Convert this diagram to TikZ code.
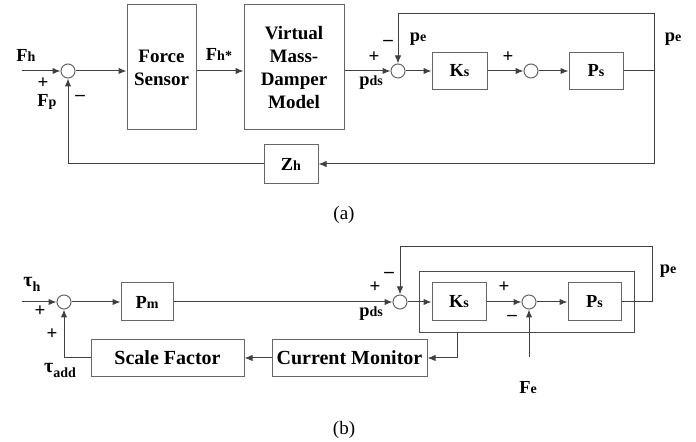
\documentclass[tikz,border=0pt]{standalone}
\usepackage{fontspec}
\setmainfont{Liberation Serif}
\usetikzlibrary{arrows.meta}
\newcommand{\blab}[2]{{\fontsize{9.2}{10}\selectfont\bfseries #1}{\fontsize{7}{8}\selectfont\bfseries #2}}
\newcommand{\tlab}[2]{{\fontsize{10}{10}\selectfont\bfseries #1}\raisebox{-2.5pt}{\fontsize{7}{8}\selectfont\bfseries #2}}
\tikzset{
  blk/.style={draw=black!60, line width=0.5pt, inner sep=1pt, align=center, font=\fontsize{9.5}{11.5}\selectfont\bfseries},
  sumc/.style={circle, draw=black!60, line width=0.5pt, minimum size=7pt, inner sep=0pt},
  sig/.style={draw=black!75, line width=0.5pt, -{Latex[length=4pt,width=3.2pt]}},
  wire/.style={draw=black!75, line width=0.5pt},
  lbl/.style={font=\fontsize{9.5}{10}\selectfont\bfseries, inner sep=0pt},
}
\begin{document}
\begin{tikzpicture}[x=0.5pt, y=-0.5pt]
\useasboundingbox (0,0) rectangle (696,442);
% ---- (a) ----
\node[sumc] (sa) at (68,71) {};
\node[blk, minimum width=34.5pt, minimum height=62.5pt] (fs) at (161.5,67.5) {Force\\Sensor};
\node[blk, minimum width=50pt, minimum height=62.5pt] (vmd) at (294,67.5) {Virtual\\Mass-\\Damper\\Model};
\node[sumc] (sb) at (398,71) {};
\node[blk, minimum width=27.5pt, minimum height=18.5pt] (ks) at (459.5,71) {\blab{K}{s}};
\node[sumc] (sc) at (531,71) {};
\node[blk, minimum width=27pt, minimum height=18.5pt] (ps) at (596,71) {\blab{P}{s}};
\node[blk, minimum width=27pt, minimum height=19.5pt] (zh) at (291,164) {\blab{Z}{h}};
\coordinate (fhin) at (22,71);
\coordinate (ta) at (654,71);
\coordinate (tb) at (654,14);
\coordinate (bb) at (654,164);

\draw[sig] (fhin) -- (sa);
\draw[sig] (sa) -- (sa -| fs.west);
\draw[sig] (sa -| fs.east) -- (sa -| vmd.west);
\draw[sig] (sa -| vmd.east) -- (sb);
\draw[sig] (sb) -- (ks);
\draw[sig] (ks) -- (sc);
\draw[sig] (sc) -- (ps);
\draw[wire] (ps) -- (ta);
\draw[sig] (ta) -- (tb) -| (sb.north);
\draw[sig] (ta) -- (bb) -- (zh.east);
\draw[sig] (zh.west) -| (sa.south);

\node[lbl] (fh) at (26,55) {\blab{F}{h}};
\node[lbl] (fp) at (47,102) {\blab{F}{p}};
\node[lbl] (fhs) at (219,54) {\blab{F}{h*}};
\node[lbl] (pdsa) at (371,83) {\blab{p}{ds}};
\node[lbl] (pea) at (418,39) {\blab{p}{e}};
\node[lbl] (peb) at (673,39) {\blab{p}{e}};
\foreach \x/\y [count=\k] in {43/83, 374/57, 508/57}
  \node[lbl] (pa\k) at (\x,\y) {+};
\foreach \x/\y [count=\k] in {80/98, 388/43}
  \node[lbl] (ma\k) at (\x,\y) {--};
\node[font=\fontsize{9.5}{11}\selectfont] (capa) at (344,215) {(a)};

% ---- (b) ----
\node[sumc] (sd) at (64,302) {};
\node[blk, minimum width=26pt, minimum height=19pt] (pm) at (147,302) {\blab{P}{m}};
\node[sumc] (se) at (400,302) {};
\node[draw=black!70, line width=0.5pt, minimum width=107.5pt, minimum height=30.5pt] (inner) at (526.5,302.5) {};
\node[blk, minimum width=27pt, minimum height=19pt] (ks2) at (459,302) {\blab{K}{s}};
\node[sumc] (sf) at (529,302) {};
\node[blk, minimum width=26.5pt, minimum height=19pt] (ps2) at (594.5,302) {\blab{P}{s}};
\node[blk, minimum width=77.5pt, minimum height=18.5pt, font=\fontsize{10}{12}\selectfont\bfseries] (cm) at (349.5,358) {Current Monitor};
\node[blk, minimum width=76.5pt, minimum height=18.5pt, font=\fontsize{10}{12}\selectfont\bfseries] (sfb) at (167.5,358) {Scale Factor};
\coordinate (thin) at (22,302);
\coordinate (tc) at (652,302);
\coordinate (td) at (652,247);
\coordinate (fein) at (529,357);
\coordinate (ib) at (457,333);

\draw[sig] (thin) -- (sd);
\draw[sig] (sd) -- (pm);
\draw[sig] (pm) -- (se);
\draw[sig] (se) -- (ks2);
\draw[sig] (ks2) -- (sf);
\draw[sig] (sf) -- (ps2);
\draw[wire] (ps2) -- (tc);
\draw[sig] (tc) -- (td) -| (se.north);
\draw[sig] (fein) -- (sf.south);
\draw[sig] (ib) |- (cm.east);
\draw[sig] (cm) -- (sfb);
\draw[sig] (sfb.west) -| (sd.south);

\node[lbl] (th) at (32,284) {\tlab{τ}{h}};
\node[lbl] (tadd) at (60,370) {\tlab{τ}{add}};
\node[lbl] (pdsb) at (371,314) {\blab{p}{ds}};
\node[lbl] (pec) at (668,271) {\blab{p}{e}};
\node[lbl] (fe) at (528,388) {\blab{F}{e}};
\foreach \x/\y [count=\k] in {40/311, 52/334, 375/287, 504/287}
  \node[lbl] (pb\k) at (\x,\y) {+};
\foreach \x/\y [count=\k] in {389/275, 512/318}
  \node[lbl] (mb\k) at (\x,\y) {--};
\node[font=\fontsize{9.5}{11}\selectfont] (capb) at (344,430) {(b)};
\end{tikzpicture}
\end{document}
